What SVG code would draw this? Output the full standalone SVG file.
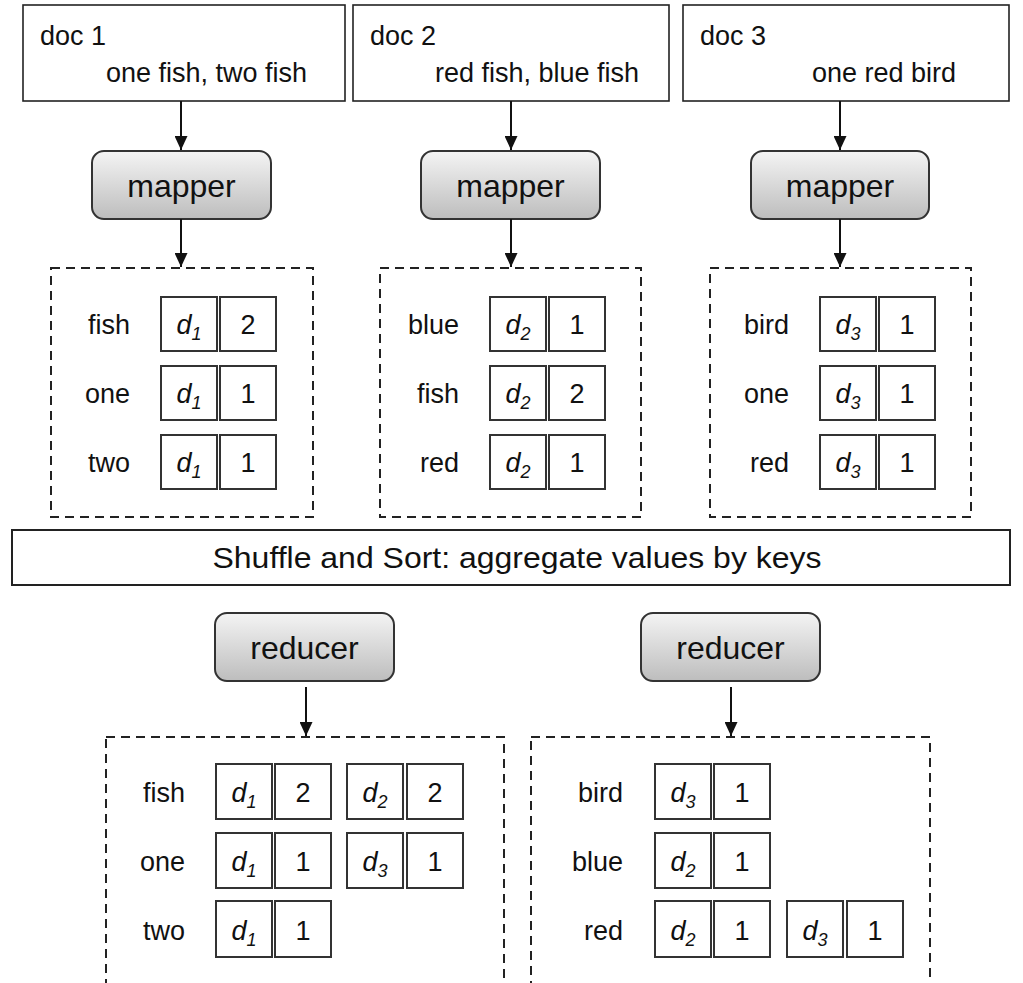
<svg xmlns="http://www.w3.org/2000/svg" width="1023" height="983" viewBox="0 0 1023 983">
<style>
.box{fill:#fff;stroke:#222;stroke-width:1.6}
.dash{fill:none;stroke:#222;stroke-width:2;stroke-dasharray:9,6}
.cell{fill:#fff;stroke:#333;stroke-width:2}
.proc{fill:url(#g);stroke:#333;stroke-width:2}
.t{font-family:"Liberation Sans",Arial,sans-serif;font-size:27px;fill:#111}
.pt{font-family:"Liberation Sans",Arial,sans-serif;font-size:32px;fill:#111;text-anchor:middle}
.k{text-anchor:end}
.c{text-anchor:middle}
.i{font-style:italic}
.sub{font-size:18px}
.conn{stroke:#111;stroke-width:2;marker-end:url(#a)}
</style>
<defs>
<linearGradient id="g" x1="0" y1="0" x2="0" y2="1">
<stop offset="0" stop-color="#f4f4f4"/>
<stop offset="1" stop-color="#bdbdbd"/>
</linearGradient>
<marker id="a" viewBox="0 0 10 10" refX="10" refY="5" markerWidth="7" markerHeight="6.5" preserveAspectRatio="none" orient="auto" markerUnits="strokeWidth">
<path d="M0,0 L10,5 L0,10 z" fill="#111"/>
</marker>
</defs>

<g id="doc1"><rect class="box" x="23" y="5" width="322" height="96"/><text class="t" x="40" y="45">doc 1</text><text class="t k" x="307" y="82">one fish, two fish</text></g>
<g id="doc2"><rect class="box" x="353" y="5" width="316" height="96"/><text class="t" x="370" y="45">doc 2</text><text class="t k" x="639" y="82">red fish, blue fish</text></g>
<g id="doc3"><rect class="box" x="683" y="5" width="326" height="96"/><text class="t" x="700" y="45">doc 3</text><text class="t k" x="956" y="82">one red bird</text></g>

<g id="mapper1"><rect class="proc" x="92" y="151" width="179" height="68" rx="12"/><text class="pt" x="181.5" y="197">mapper</text></g>
<g id="mapper2"><rect class="proc" x="421" y="151" width="179" height="68" rx="12"/><text class="pt" x="510.5" y="197">mapper</text></g>
<g id="mapper3"><rect class="proc" x="751" y="151" width="178" height="68" rx="12"/><text class="pt" x="840" y="197">mapper</text></g>

<g id="connectors">
<line class="conn" x1="181" y1="101" x2="181" y2="150"/>
<line class="conn" x1="511" y1="101" x2="511" y2="150"/>
<line class="conn" x1="840" y1="101" x2="840" y2="150"/>
<line class="conn" x1="181" y1="219" x2="181" y2="267"/>
<line class="conn" x1="511" y1="219" x2="511" y2="267"/>
<line class="conn" x1="840" y1="219" x2="840" y2="267"/>
<line class="conn" x1="306" y1="687" x2="306" y2="736"/>
<line class="conn" x1="731" y1="687" x2="731" y2="736"/>
</g>

<g id="map-out1">
<rect class="dash" x="51" y="268" width="262" height="249"/>
<text class="t k" x="130" y="334">fish</text><text class="t k" x="130" y="403">one</text><text class="t k" x="130" y="472">two</text>
<rect class="cell" x="161" y="297" width="56" height="54"/><rect class="cell" x="220" y="297" width="56" height="54"/>
<rect class="cell" x="161" y="366" width="56" height="54"/><rect class="cell" x="220" y="366" width="56" height="54"/>
<rect class="cell" x="161" y="435" width="56" height="54"/><rect class="cell" x="220" y="435" width="56" height="54"/>
<text class="t c i" x="189" y="334">d<tspan class="sub" dy="6">1</tspan></text><text class="t c" x="248" y="334">2</text>
<text class="t c i" x="189" y="403">d<tspan class="sub" dy="6">1</tspan></text><text class="t c" x="248" y="403">1</text>
<text class="t c i" x="189" y="472">d<tspan class="sub" dy="6">1</tspan></text><text class="t c" x="248" y="472">1</text>
</g>

<g id="map-out2">
<rect class="dash" x="380" y="268" width="261" height="249"/>
<text class="t k" x="459" y="334">blue</text><text class="t k" x="459" y="403">fish</text><text class="t k" x="459" y="472">red</text>
<rect class="cell" x="490" y="297" width="56" height="54"/><rect class="cell" x="549" y="297" width="56" height="54"/>
<rect class="cell" x="490" y="366" width="56" height="54"/><rect class="cell" x="549" y="366" width="56" height="54"/>
<rect class="cell" x="490" y="435" width="56" height="54"/><rect class="cell" x="549" y="435" width="56" height="54"/>
<text class="t c i" x="518" y="334">d<tspan class="sub" dy="6">2</tspan></text><text class="t c" x="577" y="334">1</text>
<text class="t c i" x="518" y="403">d<tspan class="sub" dy="6">2</tspan></text><text class="t c" x="577" y="403">2</text>
<text class="t c i" x="518" y="472">d<tspan class="sub" dy="6">2</tspan></text><text class="t c" x="577" y="472">1</text>
</g>

<g id="map-out3">
<rect class="dash" x="710" y="268" width="261" height="249"/>
<text class="t k" x="789" y="334">bird</text><text class="t k" x="789" y="403">one</text><text class="t k" x="789" y="472">red</text>
<rect class="cell" x="820" y="297" width="56" height="54"/><rect class="cell" x="879" y="297" width="56" height="54"/>
<rect class="cell" x="820" y="366" width="56" height="54"/><rect class="cell" x="879" y="366" width="56" height="54"/>
<rect class="cell" x="820" y="435" width="56" height="54"/><rect class="cell" x="879" y="435" width="56" height="54"/>
<text class="t c i" x="848" y="334">d<tspan class="sub" dy="6">3</tspan></text><text class="t c" x="907" y="334">1</text>
<text class="t c i" x="848" y="403">d<tspan class="sub" dy="6">3</tspan></text><text class="t c" x="907" y="403">1</text>
<text class="t c i" x="848" y="472">d<tspan class="sub" dy="6">3</tspan></text><text class="t c" x="907" y="472">1</text>
</g>

<g id="shuffle"><rect class="box" x="12" y="530" width="998" height="55" style="stroke-width:2"/><text class="t c" x="517" y="568" style="font-size:29px" textLength="609" lengthAdjust="spacingAndGlyphs">Shuffle and Sort: aggregate values by keys</text></g>

<g id="reducer1"><rect class="proc" x="215" y="613" width="179" height="68" rx="12"/><text class="pt" x="304.5" y="659">reducer</text></g>
<g id="reducer2"><rect class="proc" x="641" y="613" width="179" height="68" rx="12"/><text class="pt" x="730.5" y="659">reducer</text></g>

<g id="red-out1">
<rect class="dash" x="106" y="737" width="398" height="260"/>
<text class="t k" x="185" y="802">fish</text><text class="t k" x="185" y="871">one</text><text class="t k" x="185" y="940">two</text>
<rect class="cell" x="216" y="764" width="56" height="55"/><rect class="cell" x="275" y="764" width="56" height="55"/>
<rect class="cell" x="347" y="764" width="56" height="55"/><rect class="cell" x="407" y="764" width="56" height="55"/>
<rect class="cell" x="216" y="833" width="56" height="55"/><rect class="cell" x="275" y="833" width="56" height="55"/>
<rect class="cell" x="347" y="833" width="56" height="55"/><rect class="cell" x="407" y="833" width="56" height="55"/>
<rect class="cell" x="216" y="901" width="56" height="56"/><rect class="cell" x="275" y="901" width="56" height="56"/>
<text class="t c i" x="244" y="802">d<tspan class="sub" dy="6">1</tspan></text><text class="t c" x="303" y="802">2</text>
<text class="t c i" x="375" y="802">d<tspan class="sub" dy="6">2</tspan></text><text class="t c" x="435" y="802">2</text>
<text class="t c i" x="244" y="871">d<tspan class="sub" dy="6">1</tspan></text><text class="t c" x="303" y="871">1</text>
<text class="t c i" x="375" y="871">d<tspan class="sub" dy="6">3</tspan></text><text class="t c" x="435" y="871">1</text>
<text class="t c i" x="244" y="940">d<tspan class="sub" dy="6">1</tspan></text><text class="t c" x="303" y="940">1</text>
</g>

<g id="red-out2">
<rect class="dash" x="531" y="737" width="399" height="260"/>
<text class="t k" x="623" y="802">bird</text><text class="t k" x="623" y="871">blue</text><text class="t k" x="623" y="940">red</text>
<rect class="cell" x="655" y="764" width="56" height="55"/><rect class="cell" x="714" y="764" width="56" height="55"/>
<rect class="cell" x="655" y="833" width="56" height="55"/><rect class="cell" x="714" y="833" width="56" height="55"/>
<rect class="cell" x="655" y="901" width="56" height="56"/><rect class="cell" x="714" y="901" width="56" height="56"/>
<rect class="cell" x="787" y="901" width="56" height="56"/><rect class="cell" x="847" y="901" width="56" height="56"/>
<text class="t c i" x="683" y="802">d<tspan class="sub" dy="6">3</tspan></text><text class="t c" x="742" y="802">1</text>
<text class="t c i" x="683" y="871">d<tspan class="sub" dy="6">2</tspan></text><text class="t c" x="742" y="871">1</text>
<text class="t c i" x="683" y="940">d<tspan class="sub" dy="6">2</tspan></text><text class="t c" x="742" y="940">1</text>
<text class="t c i" x="815" y="940">d<tspan class="sub" dy="6">3</tspan></text><text class="t c" x="875" y="940">1</text>
</g>
</svg>
